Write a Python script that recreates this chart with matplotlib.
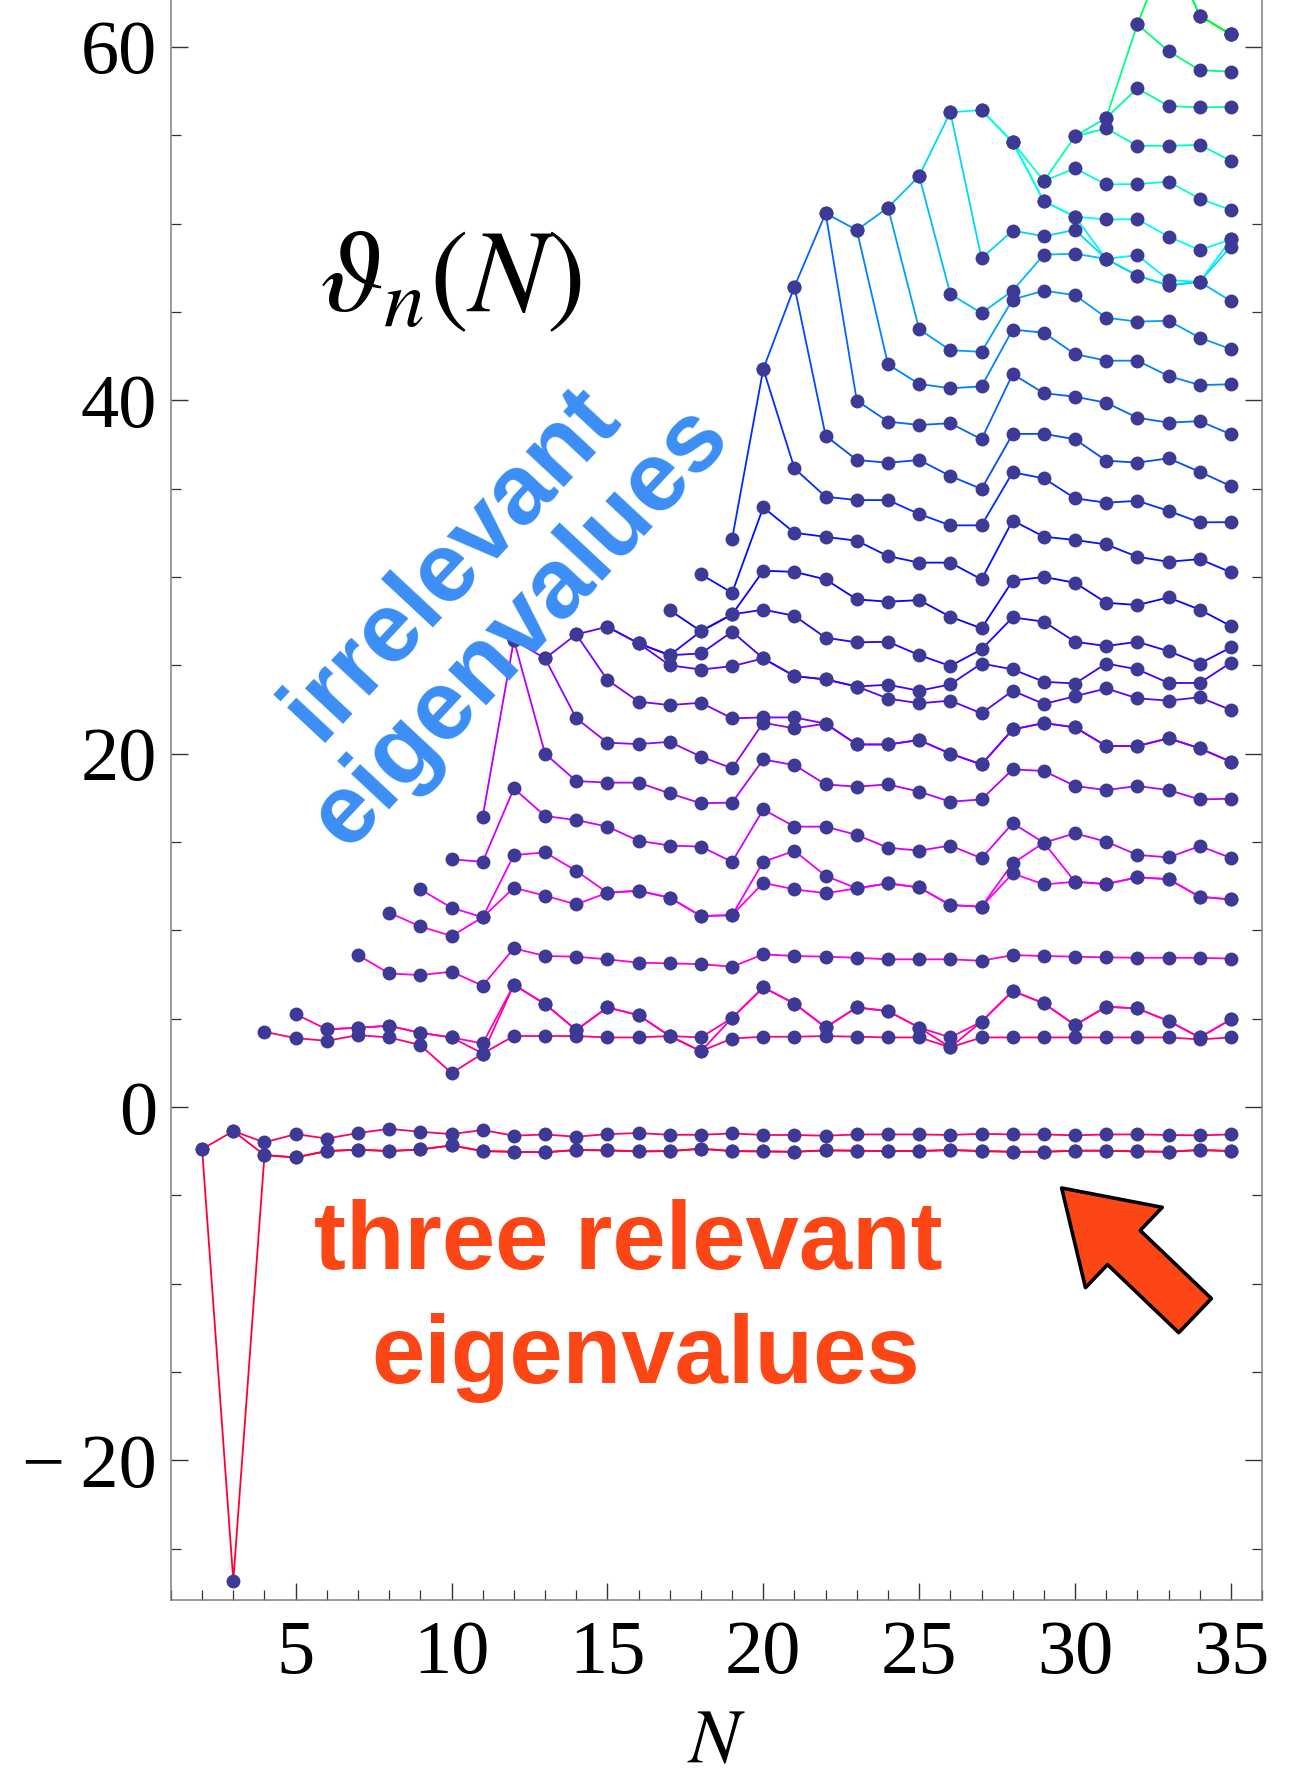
import colorsys

import matplotlib
matplotlib.use("Agg")
import matplotlib.pyplot as plt
from matplotlib.patches import FancyArrowPatch
from matplotlib.ticker import FuncFormatter, MultipleLocator

# real parts of the critical exponents theta_n at polynomial order N
# (complex-conjugate pairs appear twice, one entry per eigenvalue)
TH2 = [-2.38, -2.38]
TH3 = [-26.8, -1.36, -1.36]
TH4 = [-2.72, -2.72, -2.0, 4.26]
TH5 = [-2.85, -2.85, -1.53, 3.9, 5.26]
TH6 = [-2.49, -2.49, -1.78, 3.75, 4.40, 4.40]
TH7 = [-2.41, -2.41, -1.47, 4.07, 4.49, 4.49, 8.6]
TH8 = [-2.49, -2.49, -1.23, 3.94, 4.60, 4.60, 7.56, 11.0]
TH9 = [-2.40, -2.40, -1.40, 3.51, 4.20, 4.20, 7.47, 10.22, 12.32]
TH10 = [-2.17, -2.17, -1.53, 1.92, 3.94, 3.94, 7.66, 9.68, 11.28, 14.02]
TH11 = [-2.49, -2.49, -1.30, 3.03, 3.03, 3.6, 6.87, 10.74, 10.74, 13.88,
        16.43]
TH12 = [-2.53, -2.53, -1.62, 4.02, 6.92, 6.92, 8.98, 12.41, 14.26, 18.03,
        26.43, 26.43]
TH13 = [-2.56, -2.56, -1.55, 4.02, 5.83, 5.83, 8.55, 11.96, 14.41, 16.47,
        20.0, 25.39, 25.39]
TH14 = [-2.43, -2.43, -1.68, 4.02, 4.36, 4.36, 8.51, 11.47, 13.37, 16.24,
        18.45, 22.0, 26.75, 26.75]
TH15 = [-2.45, -2.45, -1.53, 3.94, 5.64, 5.64, 8.36, 12.13, 12.13, 15.87,
        18.36, 20.62, 24.17, 27.18, 27.18]
TH16 = [-2.51, -2.51, -1.47, 3.94, 5.2, 5.2, 8.17, 12.24, 12.24, 15.07,
        18.36, 20.54, 22.94, 26.24, 26.24, 26.24]
TH17 = [-2.49, -2.49, -1.57, 4.02, 4.02, 4.02, 8.13, 11.85, 11.85, 14.8,
        17.75, 20.67, 22.75, 25.0, 25.57, 25.57, 28.12]
TH18 = [-2.36, -2.36, -1.57, 3.16, 3.16, 3.94, 8.09, 10.81, 10.81, 14.74,
        17.19, 19.83, 22.88, 24.76, 25.67, 26.93, 26.93, 30.15]
TH19 = [-2.49, -2.49, -1.49, 3.88, 5.04, 5.04, 7.94, 10.86, 10.86, 13.88,
        17.23, 19.17, 22.0, 24.95, 26.9, 27.88, 27.88, 29.1, 32.15]
TH20 = [-2.51, -2.51, -1.58, 3.98, 6.77, 6.77, 8.64, 12.69, 13.88, 16.84,
        19.67, 21.75, 22.05, 25.39, 25.39, 28.15, 30.35, 33.94, 41.77, 41.77]
TH21 = [-2.53, -2.53, -1.58, 3.98, 5.86, 5.86, 8.55, 12.32, 14.5, 15.87,
        19.35, 21.43, 22.05, 24.39, 24.39, 27.8, 30.29, 32.5, 36.14, 46.43,
        46.43]
TH22 = [-2.45, -2.45, -1.62, 4.02, 4.51, 4.51, 8.51, 12.1, 13.08, 15.87,
        18.26, 21.7, 21.7, 24.2, 24.2, 26.56, 29.86, 32.27, 34.54, 37.99,
        50.58, 50.58]
TH23 = [-2.47, -2.47, -1.55, 3.98, 5.64, 5.64, 8.45, 12.38, 12.38, 15.4,
        18.13, 20.52, 20.52, 23.8, 23.8, 26.3, 28.73, 32.05, 34.35, 36.62,
        39.98, 49.63, 49.63]
TH24 = [-2.49, -2.49, -1.55, 3.94, 5.43, 5.43, 8.36, 12.66, 12.66, 14.68,
        18.26, 20.52, 20.52, 23.12, 23.9, 26.33, 28.6, 31.18, 34.35, 36.46,
        38.79, 42.03, 50.9, 50.9]
TH25 = [-2.49, -2.49, -1.55, 3.94, 4.5, 4.5, 8.36, 12.43, 12.43, 14.51,
        17.85, 20.77, 20.77, 22.85, 23.56, 25.58, 28.69, 30.81, 33.56, 36.62,
        38.6, 40.92, 44.02, 52.69, 52.69]
TH26 = [-2.43, -2.43, -1.58, 3.38, 3.38, 3.94, 8.36, 11.43, 11.43, 14.8,
        17.28, 20.0, 20.0, 23.0, 23.92, 24.96, 27.75, 30.81, 32.92, 35.71,
        38.7, 40.68, 42.83, 46.01, 56.3, 56.3]
TH27 = [-2.49, -2.49, -1.51, 3.94, 4.83, 4.83, 8.28, 11.34, 11.34, 14.08,
        17.41, 19.39, 19.39, 22.28, 25.1, 25.9, 27.09, 29.86, 32.92, 34.98,
        37.79, 40.78, 42.74, 44.93, 48.03, 56.42, 56.42]
TH28 = [-2.53, -2.53, -1.55, 3.94, 6.57, 6.57, 8.6, 13.22, 13.79, 16.06,
        19.11, 21.37, 21.37, 23.56, 24.77, 27.71, 29.79, 33.19, 35.92, 38.09,
        41.48, 44.0, 45.7, 46.2, 49.6, 54.6, 54.6, 54.6]
TH29 = [-2.53, -2.53, -1.55, 3.94, 5.87, 5.87, 8.55, 12.6, 14.96, 14.96,
        19.02, 21.73, 21.73, 22.81, 24.07, 27.47, 30.0, 32.28, 35.58, 38.1,
        40.4, 43.82, 46.2, 48.24, 49.28, 51.26, 51.26, 52.41, 52.41]
TH30 = [-2.47, -2.47, -1.60, 3.94, 4.64, 4.64, 8.51, 12.75, 12.75, 15.49,
        18.17, 21.49, 21.49, 23.25, 23.97, 26.33, 29.67, 32.09, 34.45, 37.79,
        40.2, 42.61, 45.95, 48.29, 49.64, 50.39, 50.39, 53.12, 54.94, 54.94]
TH31 = [-2.47, -2.47, -1.55, 3.94, 5.68, 5.68, 8.47, 12.62, 12.62, 15.02,
        17.94, 20.43, 20.43, 23.69, 25.1, 26.09, 28.54, 31.84, 34.2, 36.58,
        39.86, 42.24, 44.67, 48.0, 48.0, 48.0, 50.23, 52.21, 55.38, 55.98,
        55.98]
TH32 = [-2.51, -2.51, -1.55, 3.94, 5.58, 5.58, 8.45, 13.0, 13.0, 14.27,
        18.17, 20.43, 20.43, 23.13, 24.77, 26.33, 28.41, 31.14, 34.31, 36.47,
        39.01, 42.24, 44.45, 47.05, 47.05, 48.21, 50.25, 52.23, 54.4, 57.65,
        61.27, 61.27]
TH33 = [-2.53, -2.53, -1.58, 3.94, 4.87, 4.87, 8.45, 12.9, 12.9, 14.13,
        17.94, 20.87, 20.87, 23.0, 24.0, 25.8, 28.84, 30.86, 33.74, 36.71,
        38.73, 41.37, 44.5, 46.5, 46.5, 46.8, 49.26, 52.37, 54.4, 56.65,
        59.76, 65.8, 65.8]
TH34 = [-2.43, -2.43, -1.60, 3.83, 3.94, 3.94, 8.45, 11.9, 11.9, 14.77,
        17.41, 20.3, 20.3, 23.19, 24.0, 25.1, 28.15, 31.01, 33.09, 35.95,
        38.82, 40.86, 43.54, 46.7, 46.7, 46.7, 48.5, 51.4, 54.45, 56.57,
        58.68, 61.76, 61.76, 61.76]
TH35 = [-2.49, -2.49, -1.55, 3.94, 4.96, 4.96, 8.4, 11.75, 11.75, 14.1,
        17.45, 19.54, 19.54, 22.47, 25.15, 26.01, 27.22, 30.26, 33.1, 35.14,
        38.07, 40.9, 42.89, 45.61, 48.7, 49.1, 49.1, 50.77, 53.55, 56.6,
        58.59, 60.7, 60.7, 60.7, 60.7]

SPECTRA = {2: TH2, 3: TH3, 4: TH4, 5: TH5, 6: TH6, 7: TH7, 8: TH8, 9: TH9,
           10: TH10, 11: TH11, 12: TH12, 13: TH13, 14: TH14, 15: TH15,
           16: TH16, 17: TH17, 18: TH18, 19: TH19, 20: TH20, 21: TH21,
           22: TH22, 23: TH23, 24: TH24, 25: TH25, 26: TH26, 27: TH27,
           28: TH28, 29: TH29, 30: TH30, 31: TH31, 32: TH32, 33: TH33,
           34: TH34, 35: TH35}

DOT = "#3c3a96"
BLUE_TXT = "#3b8ef5"
RED_TXT = "#fc4616"

plt.rcParams["mathtext.fontset"] = "stix"
SERIF = ["Liberation Serif", "DejaVu Serif"]
SANS = ["Liberation Sans", "DejaVu Sans"]


def line_color(k):
    # Hue running red -> magenta -> blue -> cyan -> green with the index
    h = 0.97 - 0.0185 * k
    return colorsys.hsv_to_rgb(h, 1.0, 1.0)


def tick_fmt(v, _pos):
    v = int(round(v))
    return "\u2212\u2009%d" % -v if v < 0 else "%d" % v


fig = plt.figure(figsize=(13.03, 17.87), dpi=100)
ax = fig.add_axes([0.1312, 0.1046, 0.8374, 0.8954])

orders = sorted(SPECTRA)
spec = {N: sorted(SPECTRA[N]) for N in orders}
nmax = max(len(v) for v in spec.values())

for k in range(nmax):
    xs = [N for N in orders if len(spec[N]) > k]
    ys = [spec[N][k] for N in xs]
    ax.plot(xs, ys, color=line_color(k), lw=1.3, zorder=2)

px = [N for N in orders for _ in spec[N]]
py = [v for N in orders for v in spec[N]]
ax.plot(px, py, ls="none", marker="o", ms=10, mfc=DOT, mec=DOT, mew=0,
        zorder=3)

ax.set_xlim(1.0, 36.0)
ax.set_ylim(-27.9, 62.65)

ax.xaxis.set_major_locator(MultipleLocator(5))
ax.xaxis.set_minor_locator(MultipleLocator(1))
ax.yaxis.set_major_locator(MultipleLocator(20))
ax.yaxis.set_minor_locator(MultipleLocator(5))
ax.yaxis.set_major_formatter(FuncFormatter(tick_fmt))

ax.spines["top"].set_visible(False)
for s in ("left", "right", "bottom"):
    ax.spines[s].set_color("#7f7f7f")
    ax.spines[s].set_linewidth(1.1)

ax.tick_params(which="both", direction="in", left=True, right=True,
               bottom=True, top=False, labelright=False, color="#333333")
ax.tick_params(which="major", length=12, width=1.0, labelsize=55)
ax.tick_params(which="minor", length=7, width=0.9)
ax.tick_params(axis="x", which="major", pad=14)
ax.tick_params(axis="y", which="major", pad=10)
for lab in ax.get_xticklabels() + ax.get_yticklabels():
    lab.set_family(SERIF)

ax.text(0.5, -0.101, r"$N$", transform=ax.transAxes, ha="center",
        va="baseline", fontsize=55)
ax.text(0.256, 0.826, r"$\vartheta_n(N)$", transform=ax.transAxes,
        ha="center", va="center", fontsize=84)

ax.text(0.289, 0.628, "irrelevant\neigenvalues", transform=ax.transAxes,
        ha="center", va="center", rotation=47, rotation_mode="anchor",
        fontsize=71, fontweight="bold", family=SANS, color=BLUE_TXT,
        linespacing=1.05, zorder=4)
ax.text(0.419, 0.2069, "three relevant", transform=ax.transAxes,
        ha="center", va="baseline", fontsize=69, fontweight="bold",
        family=SANS, color=RED_TXT, zorder=4)
ax.text(0.435, 0.1356, "eigenvalues", transform=ax.transAxes,
        ha="center", va="baseline", fontsize=69, fontweight="bold",
        family=SANS, color=RED_TXT, zorder=4)

arrow = FancyArrowPatch((33.85, -11.8), (29.57, -4.58),
                        arrowstyle="simple,head_length=62,head_width=80,"
                                   "tail_width=34",
                        mutation_scale=1, shrinkA=0, shrinkB=0,
                        fc=RED_TXT, ec="black", lw=2.6, zorder=5)
ax.add_patch(arrow)

fig.savefig("out.png", dpi=100)
